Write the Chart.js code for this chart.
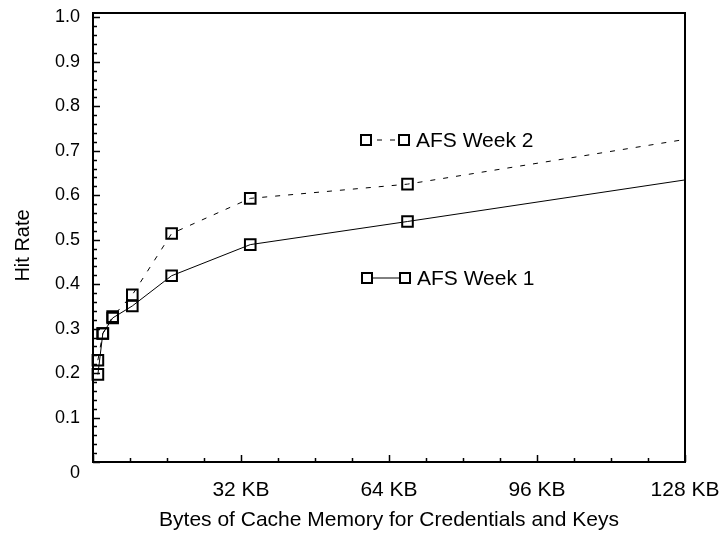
<!DOCTYPE html>
<html>
<head>
<meta charset="utf-8">
<title>AFS hit rate</title>
<script src="https://cdn.jsdelivr.net/npm/chart.js@4.4.0/dist/chart.umd.min.js"></script>
<style>
  body { margin: 0; background: #fff; }
  .box { width: 722px; height: 535px; }
</style>
</head>
<body>
<div class="box"><canvas id="hitChart"></canvas></div>

<script>
  // cache sizes in KB (doubling), the last point lies past the right edge
  var cacheKB = [1.06, 2.12, 4.25, 8.5, 17, 34, 68, 136];
  // hit rates
  var week1 = [0.197, 0.289, 0.324, 0.351, 0.419, 0.489, 0.541, 0.647];
  var week2 = [0.229, 0.289, 0.327, 0.376, 0.514, 0.593, 0.625, 0.739];
  var seriesNames = ['AFS Week 1', 'AFS Week 2'];
  // axis labels
  var xTicks = [0, 32, 64, 96, 128];
  var yTicks = [0, 0.1, 0.2, 0.3, 0.4, 0.5, 0.6, 0.7, 0.8, 0.9, 1.0];
  var yTitle = 'Hit Rate';

  var font = "'Liberation Sans', Arial, sans-serif";

  function points(xs, ys) {
    return xs.map(function (x, i) { return { x: x, y: ys[i] }; });
  }

  // box round the plot, inward tick marks, y title
  var framePlugin = {
    id: 'frame',
    afterDraw: function (chart) {
      var ctx = chart.ctx, a = chart.chartArea;
      var x = chart.scales.x, y = chart.scales.y;
      ctx.save();
      ctx.strokeStyle = '#000';
      ctx.lineWidth = 1.5;
      ctx.beginPath();
      for (var kb = 0; kb <= 128; kb += 8) {
        var px = Math.round(x.getPixelForValue(kb)) + 0.5;
        var len = kb % 32 === 0 ? 7 : 4;
        ctx.moveTo(px, a.bottom);
        ctx.lineTo(px, a.bottom - len);
      }
      for (var i = 0; i <= 50; i++) {
        var py = Math.round(y.getPixelForValue(i * 0.02)) + 0.5;
        var l = i % 5 === 0 ? 7 : 4;
        ctx.moveTo(a.left, py);
        ctx.lineTo(a.left + l, py);
      }
      ctx.stroke();
      ctx.lineWidth = 2;
      ctx.strokeRect(a.left, a.top, a.right - a.left, a.bottom - a.top);

      // y title, a little below the middle like the original
      ctx.translate(23, (a.top + a.bottom) / 2 + 8);
      ctx.rotate(-Math.PI / 2);
      ctx.fillStyle = '#000';
      ctx.font = '20px ' + font;
      ctx.textAlign = 'center';
      ctx.textBaseline = 'middle';
      ctx.fillText(yTitle, 0, 0);
      ctx.restore();
    }
  };

  // legend entries sitting inside the plot
  var legendPlugin = {
    id: 'inlineLegend',
    afterDraw: function (chart, args, opts) {
      var ctx = chart.ctx;
      ctx.save();
      opts.items.forEach(function (it) {
        var ds = chart.data.datasets[it.dataset];
        var s = 10, x1 = it.x, x2 = it.x + 38;
        ctx.strokeStyle = '#000';
        ctx.lineWidth = 1;
        if (ds.borderDash) {
          ctx.setLineDash(ds.borderDash);
          ctx.lineDashOffset = 7;
        }
        ctx.beginPath();
        ctx.moveTo(x1 + s / 2, it.y);
        ctx.lineTo(x2 - s / 2, it.y);
        ctx.stroke();
        ctx.setLineDash([]);
        ctx.lineDashOffset = 0;
        ctx.lineWidth = 2;
        ctx.strokeRect(x1 - s / 2, it.y - s / 2, s, s);
        ctx.strokeRect(x2 - s / 2, it.y - s / 2, s, s);
        ctx.fillStyle = '#000';
        ctx.font = '21px ' + font;
        ctx.textBaseline = 'middle';
        ctx.fillText(ds.label, x2 + 12, it.y + 1);
      });
      ctx.restore();
    }
  };

  var ctx1 = document.getElementById('hitChart');
  var hitChart = new Chart(ctx1, {
    type: 'line',
    data: {
      datasets: [{
        label: seriesNames[0],
        data: points(cacheKB, week1),
        borderColor: '#000',
        borderWidth: 1,
        pointStyle: 'rect',
        pointRadius: 7.5,
        pointBorderWidth: 2,
        pointBorderColor: '#000',
        pointBackgroundColor: 'rgba(0,0,0,0)',
        tension: 0,
        fill: false,
        clip: { left: 8, top: 8, right: 0, bottom: 8 }
      }, {
        label: seriesNames[1],
        data: points(cacheKB, week2),
        borderColor: '#000',
        borderWidth: 1,
        borderDash: [5, 8],
        pointStyle: 'rect',
        pointRadius: 7.5,
        pointBorderWidth: 2,
        pointBorderColor: '#000',
        pointBackgroundColor: 'rgba(0,0,0,0)',
        tension: 0,
        fill: false,
        clip: { left: 8, top: 8, right: 0, bottom: 8 }
      }]
    },
    options: {
      responsive: true,
      maintainAspectRatio: false,
      animation: false,
      events: [],
      layout: { padding: { top: 13, right: 37, left: 0, bottom: 0 } },
      plugins: {
        legend: { display: false },
        tooltip: { enabled: false },
        inlineLegend: {
          items: [
            { dataset: 1, x: 366, y: 140 },
            { dataset: 0, x: 367, y: 278 }
          ]
        }
      },
      scales: {
        x: {
          type: 'linear',
          min: 0,
          max: 128,
          grid: { display: false, drawTicks: false },
          border: { display: false },
          afterBuildTicks: function (scale) {
            scale.ticks = xTicks.map(function (v) { return { value: v }; });
          },
          afterFit: function (scale) {
            scale.height = 73;
            scale.paddingLeft = 0;
            scale.paddingRight = 0;
          },
          ticks: {
            autoSkip: false,
            maxRotation: 0,
            padding: 16,
            color: '#000',
            font: { family: font, size: 21 },
            callback: function (v) { return v === 0 ? '' : v + ' KB'; }
          },
          title: {
            display: true,
            text: 'Bytes of Cache Memory for Credentials and Keys',
            color: '#000',
            font: { family: font, size: 21 },
            padding: { top: 0, bottom: 2 }
          }
        },
        y: {
          min: 0,
          max: 1.01,
          grid: { display: false, drawTicks: false },
          border: { display: false },
          afterBuildTicks: function (scale) {
            scale.ticks = yTicks.map(function (v) { return { value: v }; });
          },
          afterFit: function (scale) {
            scale.width = 93;
            scale.paddingTop = 0;
            scale.paddingBottom = 0;
          },
          ticks: {
            autoSkip: false,
            padding: 13,
            color: '#000',
            font: { family: font, size: 18 },
            callback: function (v) { return v === 0 ? ['', '0'] : v.toFixed(1); }
          },
          title: { display: false }
        }
      }
    },
    plugins: [framePlugin, legendPlugin]
  });
</script>
</body>
</html>
